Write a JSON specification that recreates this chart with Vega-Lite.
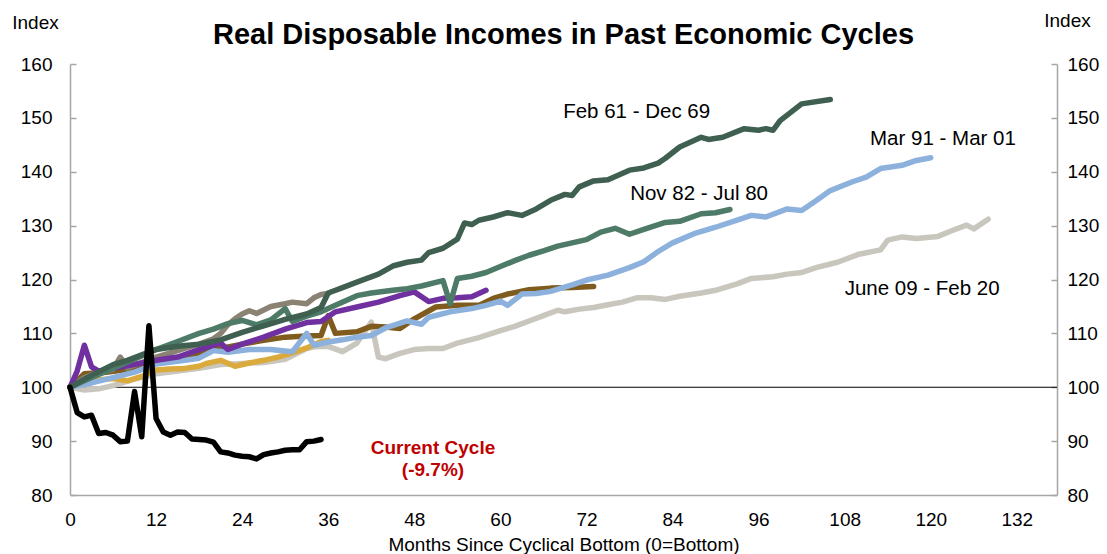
{
  "$schema": "https://vega.github.io/schema/vega-lite/v6.json",
  "width": 987,
  "height": 431,
  "autosize": "none",
  "padding": {"left": 70, "top": 64, "right": 50, "bottom": 59},
  "background": "white",
  "config": {"view": {"stroke": null}, "font": "Liberation Sans"},
  "title": {"text": "Real Disposable Incomes in Past Economic Cycles", "font": "Liberation Sans", "fontSize": 29, "fontWeight": "bold", "color": "black", "anchor": "middle", "offset": -39},
  "datasets": {
    "series": [
      {"c":"June 09 - Feb 20","m":0,"v":100},{"c":"June 09 - Feb 20","m":2,"v":99.5},{"c":"June 09 - Feb 20","m":4,"v":99.7},{"c":"June 09 - Feb 20","m":6,"v":100.3},{"c":"June 09 - Feb 20","m":9,"v":101.5},{"c":"June 09 - Feb 20","m":12,"v":102.5},{"c":"June 09 - Feb 20","m":15,"v":103},{"c":"June 09 - Feb 20","m":18,"v":103.5},{"c":"June 09 - Feb 20","m":21,"v":104.2},{"c":"June 09 - Feb 20","m":24,"v":104.4},{"c":"June 09 - Feb 20","m":27,"v":104.6},{"c":"June 09 - Feb 20","m":30,"v":105.2},{"c":"June 09 - Feb 20","m":33,"v":107.2},{"c":"June 09 - Feb 20","m":34,"v":107.5},{"c":"June 09 - Feb 20","m":36,"v":107.6},{"c":"June 09 - Feb 20","m":38,"v":106.6},{"c":"June 09 - Feb 20","m":40,"v":108.2},{"c":"June 09 - Feb 20","m":42,"v":112.1},{"c":"June 09 - Feb 20","m":43,"v":105.6},{"c":"June 09 - Feb 20","m":44,"v":105.3},{"c":"June 09 - Feb 20","m":46,"v":106.3},{"c":"June 09 - Feb 20","m":48,"v":107},{"c":"June 09 - Feb 20","m":50,"v":107.2},{"c":"June 09 - Feb 20","m":52,"v":107.2},{"c":"June 09 - Feb 20","m":54,"v":108.2},{"c":"June 09 - Feb 20","m":57,"v":109.2},{"c":"June 09 - Feb 20","m":60,"v":110.5},{"c":"June 09 - Feb 20","m":62,"v":111.3},{"c":"June 09 - Feb 20","m":64,"v":112.3},{"c":"June 09 - Feb 20","m":66,"v":113.3},{"c":"June 09 - Feb 20","m":68,"v":114.3},{"c":"June 09 - Feb 20","m":69,"v":114},{"c":"June 09 - Feb 20","m":71,"v":114.5},{"c":"June 09 - Feb 20","m":73,"v":114.8},{"c":"June 09 - Feb 20","m":75,"v":115.3},{"c":"June 09 - Feb 20","m":77,"v":115.8},{"c":"June 09 - Feb 20","m":79,"v":116.6},{"c":"June 09 - Feb 20","m":81,"v":116.6},{"c":"June 09 - Feb 20","m":83,"v":116.3},{"c":"June 09 - Feb 20","m":85,"v":116.9},{"c":"June 09 - Feb 20","m":88,"v":117.5},{"c":"June 09 - Feb 20","m":90,"v":118},{"c":"June 09 - Feb 20","m":93,"v":119.2},{"c":"June 09 - Feb 20","m":95,"v":120.2},{"c":"June 09 - Feb 20","m":98,"v":120.5},{"c":"June 09 - Feb 20","m":100,"v":121},{"c":"June 09 - Feb 20","m":102,"v":121.3},{"c":"June 09 - Feb 20","m":104,"v":122.2},{"c":"June 09 - Feb 20","m":107,"v":123.2},{"c":"June 09 - Feb 20","m":110,"v":124.7},{"c":"June 09 - Feb 20","m":113,"v":125.5},{"c":"June 09 - Feb 20","m":114,"v":127.3},{"c":"June 09 - Feb 20","m":116,"v":127.9},{"c":"June 09 - Feb 20","m":118,"v":127.6},{"c":"June 09 - Feb 20","m":121,"v":128},{"c":"June 09 - Feb 20","m":123,"v":129.1},{"c":"June 09 - Feb 20","m":125,"v":130.1},{"c":"June 09 - Feb 20","m":126,"v":129.4},{"c":"June 09 - Feb 20","m":128,"v":131.2},

      {"c":"Other cycle 1","m":0,"v":100},{"c":"Other cycle 1","m":2,"v":100.8},{"c":"Other cycle 1","m":4,"v":101.4},{"c":"Other cycle 1","m":6,"v":101.6},{"c":"Other cycle 1","m":8,"v":101.2},{"c":"Other cycle 1","m":10,"v":102},{"c":"Other cycle 1","m":12,"v":103.2},{"c":"Other cycle 1","m":14,"v":103.4},{"c":"Other cycle 1","m":16,"v":103.5},{"c":"Other cycle 1","m":18,"v":103.9},{"c":"Other cycle 1","m":19,"v":104.4},{"c":"Other cycle 1","m":21,"v":105},{"c":"Other cycle 1","m":23,"v":103.9},{"c":"Other cycle 1","m":25,"v":104.5},{"c":"Other cycle 1","m":27,"v":105},{"c":"Other cycle 1","m":29,"v":105.6},{"c":"Other cycle 1","m":31,"v":106.4},{"c":"Other cycle 1","m":33,"v":107.3},{"c":"Other cycle 1","m":35,"v":108.5},{"c":"Other cycle 1","m":36,"v":108.7},

      {"c":"Other cycle 2","m":0,"v":100},{"c":"Other cycle 2","m":2,"v":102.5},{"c":"Other cycle 2","m":5,"v":102.8},{"c":"Other cycle 2","m":8,"v":103.3},{"c":"Other cycle 2","m":10,"v":104},{"c":"Other cycle 2","m":12,"v":104.5},{"c":"Other cycle 2","m":15,"v":105.5},{"c":"Other cycle 2","m":18,"v":106.4},{"c":"Other cycle 2","m":21,"v":107.2},{"c":"Other cycle 2","m":24,"v":108},{"c":"Other cycle 2","m":27,"v":108.7},{"c":"Other cycle 2","m":30,"v":109.3},{"c":"Other cycle 2","m":33,"v":109.5},{"c":"Other cycle 2","m":35,"v":109.6},{"c":"Other cycle 2","m":36,"v":113.3},{"c":"Other cycle 2","m":37,"v":110},{"c":"Other cycle 2","m":40,"v":110.3},{"c":"Other cycle 2","m":42,"v":111.3},{"c":"Other cycle 2","m":44,"v":111.2},{"c":"Other cycle 2","m":46,"v":110.9},{"c":"Other cycle 2","m":48,"v":112.7},{"c":"Other cycle 2","m":51,"v":114.9},{"c":"Other cycle 2","m":54,"v":115.2},{"c":"Other cycle 2","m":57,"v":115.2},{"c":"Other cycle 2","m":59,"v":116.5},{"c":"Other cycle 2","m":61,"v":117.3},{"c":"Other cycle 2","m":64,"v":118.1},{"c":"Other cycle 2","m":67,"v":118.4},{"c":"Other cycle 2","m":70,"v":118.5},{"c":"Other cycle 2","m":73,"v":118.7},

      {"c":"Mar 91 - Mar 01","m":0,"v":100},{"c":"Mar 91 - Mar 01","m":3,"v":100.8},{"c":"Mar 91 - Mar 01","m":6,"v":101.8},{"c":"Mar 91 - Mar 01","m":9,"v":102.8},{"c":"Mar 91 - Mar 01","m":12,"v":104.3},{"c":"Mar 91 - Mar 01","m":15,"v":104.8},{"c":"Mar 91 - Mar 01","m":18,"v":105.4},{"c":"Mar 91 - Mar 01","m":20,"v":106.8},{"c":"Mar 91 - Mar 01","m":22,"v":106.5},{"c":"Mar 91 - Mar 01","m":25,"v":107},{"c":"Mar 91 - Mar 01","m":28,"v":107},{"c":"Mar 91 - Mar 01","m":31,"v":106.6},{"c":"Mar 91 - Mar 01","m":33,"v":110},{"c":"Mar 91 - Mar 01","m":34,"v":107.8},{"c":"Mar 91 - Mar 01","m":36,"v":108.4},{"c":"Mar 91 - Mar 01","m":38,"v":108.8},{"c":"Mar 91 - Mar 01","m":40,"v":109.3},{"c":"Mar 91 - Mar 01","m":42,"v":109.6},{"c":"Mar 91 - Mar 01","m":44,"v":111},{"c":"Mar 91 - Mar 01","m":47,"v":112.3},{"c":"Mar 91 - Mar 01","m":49,"v":111.7},{"c":"Mar 91 - Mar 01","m":50,"v":113},{"c":"Mar 91 - Mar 01","m":53,"v":114},{"c":"Mar 91 - Mar 01","m":56,"v":114.6},{"c":"Mar 91 - Mar 01","m":58,"v":115.2},{"c":"Mar 91 - Mar 01","m":60,"v":116},{"c":"Mar 91 - Mar 01","m":61,"v":115.2},{"c":"Mar 91 - Mar 01","m":63,"v":117.3},{"c":"Mar 91 - Mar 01","m":65,"v":117.4},{"c":"Mar 91 - Mar 01","m":67,"v":117.8},{"c":"Mar 91 - Mar 01","m":70,"v":119},{"c":"Mar 91 - Mar 01","m":72,"v":119.9},{"c":"Mar 91 - Mar 01","m":75,"v":120.8},{"c":"Mar 91 - Mar 01","m":78,"v":122.2},{"c":"Mar 91 - Mar 01","m":80,"v":123.3},{"c":"Mar 91 - Mar 01","m":82,"v":125.2},{"c":"Mar 91 - Mar 01","m":84,"v":126.8},{"c":"Mar 91 - Mar 01","m":87,"v":128.5},{"c":"Mar 91 - Mar 01","m":90,"v":129.7},{"c":"Mar 91 - Mar 01","m":93,"v":131},{"c":"Mar 91 - Mar 01","m":95,"v":131.9},{"c":"Mar 91 - Mar 01","m":97,"v":131.6},{"c":"Mar 91 - Mar 01","m":100,"v":133.1},{"c":"Mar 91 - Mar 01","m":102,"v":132.8},{"c":"Mar 91 - Mar 01","m":104,"v":134.6},{"c":"Mar 91 - Mar 01","m":106,"v":136.5},{"c":"Mar 91 - Mar 01","m":109,"v":138.1},{"c":"Mar 91 - Mar 01","m":111,"v":139},{"c":"Mar 91 - Mar 01","m":113,"v":140.6},{"c":"Mar 91 - Mar 01","m":116,"v":141.2},{"c":"Mar 91 - Mar 01","m":118,"v":142.1},{"c":"Mar 91 - Mar 01","m":120,"v":142.6},

      {"c":"Other cycle 3","m":0,"v":100},{"c":"Other cycle 3","m":2,"v":101.8},{"c":"Other cycle 3","m":4,"v":102.8},{"c":"Other cycle 3","m":6,"v":103.3},{"c":"Other cycle 3","m":7,"v":105.6},{"c":"Other cycle 3","m":8,"v":103.6},{"c":"Other cycle 3","m":10,"v":104.6},{"c":"Other cycle 3","m":12,"v":105.6},{"c":"Other cycle 3","m":14,"v":106.4},{"c":"Other cycle 3","m":16,"v":107.2},{"c":"Other cycle 3","m":18,"v":108},{"c":"Other cycle 3","m":20,"v":109},{"c":"Other cycle 3","m":21,"v":110},{"c":"Other cycle 3","m":22,"v":111.6},{"c":"Other cycle 3","m":23,"v":112.7},{"c":"Other cycle 3","m":24,"v":113.6},{"c":"Other cycle 3","m":25,"v":114.2},{"c":"Other cycle 3","m":26,"v":113.7},{"c":"Other cycle 3","m":28,"v":115},{"c":"Other cycle 3","m":30,"v":115.5},{"c":"Other cycle 3","m":31,"v":115.8},{"c":"Other cycle 3","m":33,"v":115.5},{"c":"Other cycle 3","m":34,"v":116.6},{"c":"Other cycle 3","m":35,"v":117.2},{"c":"Other cycle 3","m":36,"v":117.4},

      {"c":"Other cycle 4","m":0,"v":100},{"c":"Other cycle 4","m":1,"v":103},{"c":"Other cycle 4","m":2,"v":107.8},{"c":"Other cycle 4","m":3,"v":103.8},{"c":"Other cycle 4","m":4,"v":103},{"c":"Other cycle 4","m":6,"v":103.5},{"c":"Other cycle 4","m":8,"v":104},{"c":"Other cycle 4","m":10,"v":104.5},{"c":"Other cycle 4","m":12,"v":105},{"c":"Other cycle 4","m":15,"v":105.6},{"c":"Other cycle 4","m":18,"v":107},{"c":"Other cycle 4","m":21,"v":108.2},{"c":"Other cycle 4","m":22,"v":107},{"c":"Other cycle 4","m":24,"v":108},{"c":"Other cycle 4","m":27,"v":109.3},{"c":"Other cycle 4","m":30,"v":110.8},{"c":"Other cycle 4","m":33,"v":112},{"c":"Other cycle 4","m":35,"v":112.2},{"c":"Other cycle 4","m":37,"v":114},{"c":"Other cycle 4","m":40,"v":114.9},{"c":"Other cycle 4","m":43,"v":115.8},{"c":"Other cycle 4","m":46,"v":117},{"c":"Other cycle 4","m":48,"v":117.7},{"c":"Other cycle 4","m":50,"v":115.9},{"c":"Other cycle 4","m":52,"v":116.5},{"c":"Other cycle 4","m":54,"v":116.6},{"c":"Other cycle 4","m":56,"v":116.8},{"c":"Other cycle 4","m":58,"v":118},

      {"c":"Nov 82 - Jul 80","m":0,"v":100},{"c":"Nov 82 - Jul 80","m":3,"v":101.8},{"c":"Nov 82 - Jul 80","m":6,"v":103.5},{"c":"Nov 82 - Jul 80","m":8,"v":104.7},{"c":"Nov 82 - Jul 80","m":10,"v":105.8},{"c":"Nov 82 - Jul 80","m":12,"v":107},{"c":"Nov 82 - Jul 80","m":15,"v":108.5},{"c":"Nov 82 - Jul 80","m":18,"v":110},{"c":"Nov 82 - Jul 80","m":20,"v":110.8},{"c":"Nov 82 - Jul 80","m":22,"v":111.8},{"c":"Nov 82 - Jul 80","m":24,"v":112.4},{"c":"Nov 82 - Jul 80","m":26,"v":111.6},{"c":"Nov 82 - Jul 80","m":28,"v":112.5},{"c":"Nov 82 - Jul 80","m":30,"v":114.6},{"c":"Nov 82 - Jul 80","m":31,"v":112.2},{"c":"Nov 82 - Jul 80","m":33,"v":113.2},{"c":"Nov 82 - Jul 80","m":35,"v":114},{"c":"Nov 82 - Jul 80","m":37,"v":115.2},{"c":"Nov 82 - Jul 80","m":40,"v":117},{"c":"Nov 82 - Jul 80","m":42,"v":117.5},{"c":"Nov 82 - Jul 80","m":45,"v":118},{"c":"Nov 82 - Jul 80","m":47,"v":118.3},{"c":"Nov 82 - Jul 80","m":49,"v":118.8},{"c":"Nov 82 - Jul 80","m":52,"v":119.8},{"c":"Nov 82 - Jul 80","m":53,"v":115.5},{"c":"Nov 82 - Jul 80","m":54,"v":120.2},{"c":"Nov 82 - Jul 80","m":56,"v":120.6},{"c":"Nov 82 - Jul 80","m":58,"v":121.3},{"c":"Nov 82 - Jul 80","m":60,"v":122.4},{"c":"Nov 82 - Jul 80","m":62,"v":123.5},{"c":"Nov 82 - Jul 80","m":64,"v":124.5},{"c":"Nov 82 - Jul 80","m":66,"v":125.3},{"c":"Nov 82 - Jul 80","m":68,"v":126.2},{"c":"Nov 82 - Jul 80","m":70,"v":126.8},{"c":"Nov 82 - Jul 80","m":72,"v":127.4},{"c":"Nov 82 - Jul 80","m":74,"v":128.8},{"c":"Nov 82 - Jul 80","m":76,"v":129.5},{"c":"Nov 82 - Jul 80","m":78,"v":128.4},{"c":"Nov 82 - Jul 80","m":80,"v":129.3},{"c":"Nov 82 - Jul 80","m":83,"v":130.6},{"c":"Nov 82 - Jul 80","m":85,"v":130.8},{"c":"Nov 82 - Jul 80","m":88,"v":132.2},{"c":"Nov 82 - Jul 80","m":90,"v":132.4},{"c":"Nov 82 - Jul 80","m":92,"v":133},

      {"c":"Feb 61 - Dec 69","m":0,"v":100},{"c":"Feb 61 - Dec 69","m":3,"v":102.2},{"c":"Feb 61 - Dec 69","m":6,"v":104.2},{"c":"Feb 61 - Dec 69","m":8,"v":105},{"c":"Feb 61 - Dec 69","m":10,"v":106},{"c":"Feb 61 - Dec 69","m":12,"v":107},{"c":"Feb 61 - Dec 69","m":15,"v":107.6},{"c":"Feb 61 - Dec 69","m":18,"v":108},{"c":"Feb 61 - Dec 69","m":21,"v":108.8},{"c":"Feb 61 - Dec 69","m":24,"v":110.2},{"c":"Feb 61 - Dec 69","m":27,"v":111.4},{"c":"Feb 61 - Dec 69","m":30,"v":112.6},{"c":"Feb 61 - Dec 69","m":33,"v":113.6},{"c":"Feb 61 - Dec 69","m":35,"v":114.8},{"c":"Feb 61 - Dec 69","m":36,"v":117.5},{"c":"Feb 61 - Dec 69","m":38,"v":118.5},{"c":"Feb 61 - Dec 69","m":40,"v":119.5},{"c":"Feb 61 - Dec 69","m":43,"v":121},{"c":"Feb 61 - Dec 69","m":45,"v":122.5},{"c":"Feb 61 - Dec 69","m":47,"v":123.2},{"c":"Feb 61 - Dec 69","m":49,"v":123.6},{"c":"Feb 61 - Dec 69","m":50,"v":125},{"c":"Feb 61 - Dec 69","m":52,"v":125.8},{"c":"Feb 61 - Dec 69","m":54,"v":127.5},{"c":"Feb 61 - Dec 69","m":55,"v":130.5},{"c":"Feb 61 - Dec 69","m":56,"v":130.2},{"c":"Feb 61 - Dec 69","m":57,"v":131},{"c":"Feb 61 - Dec 69","m":59,"v":131.6},{"c":"Feb 61 - Dec 69","m":61,"v":132.4},{"c":"Feb 61 - Dec 69","m":63,"v":131.9},{"c":"Feb 61 - Dec 69","m":65,"v":133.1},{"c":"Feb 61 - Dec 69","m":67,"v":134.7},{"c":"Feb 61 - Dec 69","m":69,"v":135.8},{"c":"Feb 61 - Dec 69","m":70,"v":135.6},{"c":"Feb 61 - Dec 69","m":71,"v":137.2},{"c":"Feb 61 - Dec 69","m":73,"v":138.3},{"c":"Feb 61 - Dec 69","m":75,"v":138.5},{"c":"Feb 61 - Dec 69","m":78,"v":140.3},{"c":"Feb 61 - Dec 69","m":80,"v":140.7},{"c":"Feb 61 - Dec 69","m":82,"v":141.6},{"c":"Feb 61 - Dec 69","m":83,"v":142.5},{"c":"Feb 61 - Dec 69","m":85,"v":144.6},{"c":"Feb 61 - Dec 69","m":88,"v":146.4},{"c":"Feb 61 - Dec 69","m":89,"v":146},{"c":"Feb 61 - Dec 69","m":91,"v":146.4},{"c":"Feb 61 - Dec 69","m":94,"v":148},{"c":"Feb 61 - Dec 69","m":96,"v":147.7},{"c":"Feb 61 - Dec 69","m":97,"v":148},{"c":"Feb 61 - Dec 69","m":98,"v":147.7},{"c":"Feb 61 - Dec 69","m":99,"v":149.5},{"c":"Feb 61 - Dec 69","m":102,"v":152.6},{"c":"Feb 61 - Dec 69","m":106,"v":153.4},

      {"c":"Current Cycle","m":0,"v":100},{"c":"Current Cycle","m":1,"v":95.3},{"c":"Current Cycle","m":2,"v":94.5},{"c":"Current Cycle","m":3,"v":94.8},{"c":"Current Cycle","m":4,"v":91.4},{"c":"Current Cycle","m":5,"v":91.6},{"c":"Current Cycle","m":6,"v":91.1},{"c":"Current Cycle","m":7,"v":89.9},{"c":"Current Cycle","m":8,"v":90},{"c":"Current Cycle","m":9,"v":99.2},{"c":"Current Cycle","m":10,"v":90.8},{"c":"Current Cycle","m":11,"v":111.4},{"c":"Current Cycle","m":12,"v":94.2},{"c":"Current Cycle","m":13,"v":91.7},{"c":"Current Cycle","m":14,"v":91.1},{"c":"Current Cycle","m":15,"v":91.7},{"c":"Current Cycle","m":16,"v":91.6},{"c":"Current Cycle","m":17,"v":90.4},{"c":"Current Cycle","m":18,"v":90.3},{"c":"Current Cycle","m":19,"v":90.2},{"c":"Current Cycle","m":20,"v":89.8},{"c":"Current Cycle","m":21,"v":88},{"c":"Current Cycle","m":22,"v":87.8},{"c":"Current Cycle","m":23,"v":87.4},{"c":"Current Cycle","m":24,"v":87.2},{"c":"Current Cycle","m":25,"v":87.1},{"c":"Current Cycle","m":26,"v":86.7},{"c":"Current Cycle","m":27,"v":87.5},{"c":"Current Cycle","m":28,"v":87.8},{"c":"Current Cycle","m":29,"v":88},{"c":"Current Cycle","m":30,"v":88.3},{"c":"Current Cycle","m":31,"v":88.4},{"c":"Current Cycle","m":32,"v":88.4},{"c":"Current Cycle","m":33,"v":89.9},{"c":"Current Cycle","m":34,"v":90},{"c":"Current Cycle","m":35,"v":90.3}
    ],
    "labels": [
      {"m": 79.0, "v": 151.1, "t": "Feb 61 - Dec 69"},
      {"m": 87.7, "v": 135.9, "t": "Nov 82 - Jul 80"},
      {"m": 121.7, "v": 146.0, "t": "Mar 91 - Mar 01"},
      {"m": 118.8, "v": 118.3, "t": "June 09 - Feb 20"}
    ],
    "redlabels": [
      {"m": 50.6, "v": 88.7, "t": "Current Cycle"},
      {"m": 50.6, "v": 84.6, "t": "(-9.7%)"}
    ]
  },
  "layer": [
    {
      "data": {"values": [{"y": 100}]},
      "mark": {"type": "rule", "color": "black", "strokeWidth": 1},
      "encoding": {
        "y": {"field": "y", "type": "quantitative",
          "scale": {"domain": [80, 160], "nice": false, "zero": false},
          "axis": {"orient": "left", "values": [80, 90, 100, 110, 120, 130, 140, 150, 160], "grid": false,
            "domainColor": "#A6A6A6", "domainWidth": 1.5, "tickColor": "#A6A6A6", "tickWidth": 1.5, "tickSize": -6,
            "labelFont": "Liberation Sans", "labelFontSize": 19, "labelColor": "black", "labelPadding": 24,
            "title": "Index", "titleAngle": 0, "titleFont": "Liberation Sans", "titleFontSize": 19, "titleFontWeight": "normal", "titleColor": "black",
            "titleAlign": "center", "titleBaseline": "middle", "titleX": -35, "titleY": -42}
        }
      }
    },
    {
      "data": {"name": "series"},
      "mark": {"type": "line", "strokeJoin": "round", "strokeCap": "round"},
      "encoding": {
        "x": {"field": "m", "type": "quantitative",
          "scale": {"domain": [0, 137.6], "nice": false, "zero": false},
          "axis": {"values": [0, 12, 24, 36, 48, 60, 72, 84, 96, 108, 120, 132], "grid": false, "ticks": false, "labelFlush": false,
            "domainColor": "#A6A6A6", "domainWidth": 1.5,
            "labelFont": "Liberation Sans", "labelFontSize": 19, "labelColor": "black", "labelPadding": 15,
            "title": "Months Since Cyclical Bottom (0=Bottom)", "titleFont": "Liberation Sans", "titleFontSize": 19, "titleFontWeight": "normal", "titleColor": "black", "titlePadding": 6}
        },
        "y": {"field": "v", "type": "quantitative",
          "axis": {"orient": "right", "values": [80, 90, 100, 110, 120, 130, 140, 150, 160], "grid": false,
            "domainColor": "#A6A6A6", "domainWidth": 1.5, "tickColor": "#A6A6A6", "tickWidth": 1.5, "tickSize": -6,
            "labelFont": "Liberation Sans", "labelFontSize": 19, "labelColor": "black", "labelPadding": 16,
            "title": "Index", "titleAngle": 0, "titleFont": "Liberation Sans", "titleFontSize": 19, "titleFontWeight": "normal", "titleColor": "black",
            "titleAlign": "center", "titleBaseline": "middle", "titleX": 10, "titleY": -44}
        },
        "color": {"field": "c", "type": "nominal", "legend": null,
          "scale": {
            "domain": ["June 09 - Feb 20", "Other cycle 1", "Other cycle 2", "Mar 91 - Mar 01", "Other cycle 3", "Other cycle 4", "Nov 82 - Jul 80", "Feb 61 - Dec 69", "Current Cycle"],
            "range": ["#C9C6BD", "#DBAA3C", "#7F5C1E", "#8DB1DD", "#8A8273", "#7030A0", "#4D7B68", "#3F5F50", "#000000"]}
        },
        "strokeWidth": {"field": "c", "type": "nominal", "legend": null,
          "scale": {
            "domain": ["June 09 - Feb 20", "Other cycle 1", "Other cycle 2", "Mar 91 - Mar 01", "Other cycle 3", "Other cycle 4", "Nov 82 - Jul 80", "Feb 61 - Dec 69", "Current Cycle"],
            "range": [5.5, 5.5, 5.5, 5.5, 5.5, 5.5, 5.5, 5.5, 1.8]}
        }
      }
    },
    {
      "data": {"name": "labels"},
      "mark": {"type": "text", "font": "Liberation Sans", "fontSize": 20.5, "color": "black", "align": "center", "baseline": "middle"},
      "encoding": {
        "x": {"field": "m", "type": "quantitative"},
        "y": {"field": "v", "type": "quantitative", "axis": null},
        "text": {"field": "t", "type": "nominal"}
      }
    },
    {
      "data": {"name": "redlabels"},
      "mark": {"type": "text", "font": "Liberation Sans", "fontSize": 19, "fontWeight": "bold", "color": "#C00000", "align": "center", "baseline": "middle"},
      "encoding": {
        "x": {"field": "m", "type": "quantitative"},
        "y": {"field": "v", "type": "quantitative", "axis": null},
        "text": {"field": "t", "type": "nominal"}
      }
    }
  ],
  "resolve": {"axis": {"y": "independent"}}
}
